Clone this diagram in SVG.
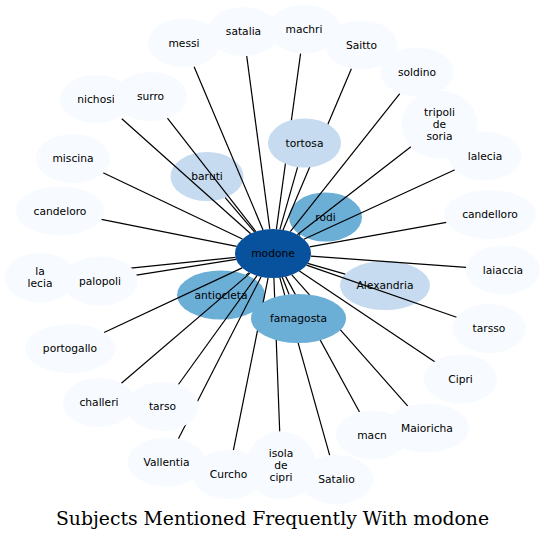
<svg xmlns="http://www.w3.org/2000/svg" width="545" height="539" viewBox="0 0 545 539">
<style>
.n0{fill:#f7fbff}
.n1{fill:#c6dbef}
.n2{fill:#6baed6}
.n3{fill:#08519c}
text.t{font-family:"DejaVu Sans","Noto Sans",sans-serif;font-size:10.7px;text-anchor:middle;fill:#000}
#edges line{stroke:#000;stroke-width:1.2}
.title{font-family:"DejaVu Serif","Liberation Serif",serif;font-size:19px;text-anchor:middle;fill:#000}
</style>
<rect width="545" height="539" fill="#fff"/>
<g id="node-baruti"><ellipse class="n1" cx="207" cy="176.5" rx="36.5" ry="24.5"/><text class="t" x="207" y="180">baruti</text></g>
<g id="node-rodi"><ellipse class="n2" cx="325.5" cy="217" rx="36.5" ry="24.5"/><text class="t" x="325.5" y="220.5">rodi</text></g>
<g id="node-antiocleta"><ellipse class="n2" cx="221" cy="295" rx="44" ry="24.5"/><text class="t" x="221" y="298.5">antiocleta</text></g>
<g id="node-Alexandria"><ellipse class="n1" cx="385" cy="285.5" rx="45" ry="24.5"/><text class="t" x="385" y="289">Alexandria</text></g>
<g id="node-modone"><ellipse class="n3" cx="273" cy="253.5" rx="38" ry="24.5"/><text class="t" x="273" y="257">modone</text></g>
<g id="edges">
<line x1="263.0" y1="229.9" x2="194.0" y2="66.6"/>
<line x1="269.8" y1="229.1" x2="246.7" y2="55.9"/>
<line x1="276.4" y1="229.1" x2="300.6" y2="53.4"/>
<line x1="283.0" y1="229.9" x2="351.5" y2="68.5"/>
<line x1="290.3" y1="231.7" x2="399.8" y2="93.6"/>
<line x1="297.3" y1="234.7" x2="410.9" y2="146.7"/>
<line x1="303.9" y1="239.3" x2="454.9" y2="169.8"/>
<line x1="309.6" y1="246.9" x2="446.4" y2="222.3"/>
<line x1="310.8" y1="256.2" x2="466.2" y2="267.4"/>
<line x1="306.5" y1="265.1" x2="456.6" y2="317.2"/>
<line x1="299.4" y1="271.1" x2="434.7" y2="361.7"/>
<line x1="291.8" y1="274.8" x2="407.8" y2="406.2"/>
<line x1="285.6" y1="276.6" x2="359.5" y2="412.0"/>
<line x1="279.8" y1="277.6" x2="329.7" y2="455.4"/>
<line x1="273.9" y1="278.0" x2="279.7" y2="431.5"/>
<line x1="268.1" y1="277.8" x2="233.4" y2="450.2"/>
<line x1="261.1" y1="276.8" x2="178.4" y2="438.7"/>
<line x1="257.0" y1="275.7" x2="178.4" y2="384.5"/>
<line x1="250.1" y1="273.1" x2="121.4" y2="383.3"/>
<line x1="242.2" y1="267.9" x2="104.1" y2="332.5"/>
<line x1="236.1" y1="259.4" x2="136.4" y2="275.2"/>
<line x1="235.5" y1="257.4" x2="74.6" y2="273.9"/>
<line x1="236.7" y1="246.3" x2="101.4" y2="219.3"/>
<line x1="242.4" y1="239.0" x2="103.1" y2="172.8"/>
<line x1="250.7" y1="233.7" x2="121.8" y2="118.8"/>
<line x1="255.9" y1="231.6" x2="167.4" y2="118.2"/>
<line x1="254.6" y1="232.1" x2="225.2" y2="197.7"/>
<line x1="279.9" y1="229.4" x2="297.6" y2="167.1"/>
<line x1="298.8" y1="235.5" x2="300.2" y2="234.6"/>
<line x1="307.7" y1="263.4" x2="345.2" y2="274.1"/>
<line x1="249.1" y1="272.6" x2="246.2" y2="274.9"/>
<line x1="282.3" y1="277.3" x2="289.1" y2="294.5"/>
</g>
<g id="node-famagosta"><ellipse class="n2" cx="298.5" cy="318.5" rx="47.5" ry="24.5"/><text class="t" x="298.5" y="322">famagosta</text></g>
<g id="node-tortosa"><ellipse class="n1" cx="304.5" cy="143" rx="36.5" ry="24.5"/><text class="t" x="304.5" y="146.5">tortosa</text></g>
<g id="node-messi"><ellipse class="n0" cx="184" cy="43" rx="36" ry="24.5"/><text class="t" x="184" y="46.5">messi</text></g>
<g id="node-satalia"><ellipse class="n0" cx="243.5" cy="31.5" rx="36" ry="24.5"/><text class="t" x="243.5" y="35">satalia</text></g>
<g id="node-machri"><ellipse class="n0" cx="304" cy="29" rx="36" ry="24.5"/><text class="t" x="304" y="32.5">machri</text></g>
<g id="node-Saitto"><ellipse class="n0" cx="361.5" cy="45" rx="36" ry="24.5"/><text class="t" x="361.5" y="48.5">Saitto</text></g>
<g id="node-soldino"><ellipse class="n0" cx="417" cy="72" rx="36.5" ry="24.5"/><text class="t" x="417" y="75.5">soldino</text></g>
<g id="node-tripoli"><ellipse class="n0" cx="439.5" cy="124.5" rx="37.8" ry="34"/><text class="t" x="439.5" y="115.5">tripoli</text><text class="t" x="439.5" y="127.5">de</text><text class="t" x="439.5" y="139.5">soria</text></g>
<g id="node-lalecia"><ellipse class="n0" cx="485" cy="156" rx="36.5" ry="24.5"/><text class="t" x="485" y="159.5">lalecia</text></g>
<g id="node-candelloro"><ellipse class="n0" cx="490" cy="214.5" rx="46" ry="24.5"/><text class="t" x="490" y="218">candelloro</text></g>
<g id="node-laiaccia"><ellipse class="n0" cx="503" cy="270" rx="37" ry="24.5"/><text class="t" x="503" y="273.5">laiaccia</text></g>
<g id="node-tarsso"><ellipse class="n0" cx="489" cy="328.5" rx="36.5" ry="24.5"/><text class="t" x="489" y="332">tarsso</text></g>
<g id="node-Cipri"><ellipse class="n0" cx="460.5" cy="379" rx="36.5" ry="24.5"/><text class="t" x="460.5" y="382.5">Cipri</text></g>
<g id="node-macn"><ellipse class="n0" cx="372" cy="435" rx="36" ry="24.5"/><text class="t" x="372" y="438.5">macn</text></g>
<g id="node-Maioricha"><ellipse class="n0" cx="427" cy="428" rx="42" ry="24.5"/><text class="t" x="427" y="431.5">Maioricha</text></g>
<g id="node-isola"><ellipse class="n0" cx="281" cy="465.5" rx="35" ry="34"/><text class="t" x="281" y="456.5">isola</text><text class="t" x="281" y="468.5">de</text><text class="t" x="281" y="480.5">cipri</text></g>
<g id="node-Satalio"><ellipse class="n0" cx="336.5" cy="479.5" rx="36.5" ry="24.5"/><text class="t" x="336.5" y="483">Satalio</text></g>
<g id="node-Curcho"><ellipse class="n0" cx="228.5" cy="474.5" rx="36" ry="24.5"/><text class="t" x="228.5" y="478">Curcho</text></g>
<g id="node-Vallentia"><ellipse class="n0" cx="166.5" cy="462" rx="39" ry="24.5"/><text class="t" x="166.5" y="465.5">Vallentia</text></g>
<g id="node-challeri"><ellipse class="n0" cx="99" cy="402.5" rx="36" ry="24.5"/><text class="t" x="99" y="406">challeri</text></g>
<g id="node-tarso"><ellipse class="n0" cx="162.5" cy="406.5" rx="36" ry="24.5"/><text class="t" x="162.5" y="410">tarso</text></g>
<g id="node-portogallo"><ellipse class="n0" cx="70" cy="348.5" rx="45" ry="24.5"/><text class="t" x="70" y="352">portogallo</text></g>
<g id="node-lalecia2"><ellipse class="n0" cx="40" cy="277.5" rx="35" ry="25"/><text class="t" x="40" y="274.5">la</text><text class="t" x="40" y="286.5">lecia</text></g>
<g id="node-palopoli"><ellipse class="n0" cx="100" cy="281" rx="37.5" ry="24.5"/><text class="t" x="100" y="284.5">palopoli</text></g>
<g id="node-candeloro"><ellipse class="n0" cx="60" cy="211" rx="44" ry="24.5"/><text class="t" x="60" y="214.5">candeloro</text></g>
<g id="node-miscina"><ellipse class="n0" cx="73" cy="158.5" rx="37" ry="24.5"/><text class="t" x="73" y="162">miscina</text></g>
<g id="node-nichosi"><ellipse class="n0" cx="96" cy="99" rx="36" ry="24"/><text class="t" x="96" y="102.5">nichosi</text></g>
<g id="node-surro"><ellipse class="n0" cx="150.5" cy="96.5" rx="36.5" ry="24.5"/><text class="t" x="150.5" y="100">surro</text></g>
<text class="title" x="272.5" y="525" textLength="433" lengthAdjust="spacingAndGlyphs">Subjects Mentioned Frequently With modone</text>
</svg>
